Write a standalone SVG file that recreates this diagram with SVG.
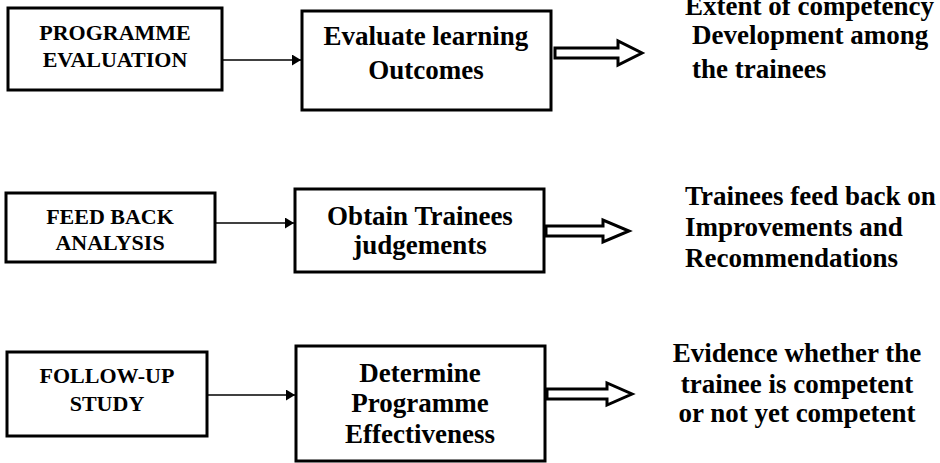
<svg xmlns="http://www.w3.org/2000/svg" width="940" height="463" viewBox="0 0 940 463">
  <defs>
    <style>
      .box { fill: #fff; stroke: #000; stroke-width: 3; }
      .t { font-family: "Liberation Serif", "Times New Roman", serif; font-weight: bold; fill: #000; }
      .s { font-size: 22px; text-anchor: middle; }
      .m { font-size: 27px; text-anchor: middle; }
      .r { font-size: 27px; }
      .line { stroke: #000; stroke-width: 1.5; fill: none; }
      .hollow { fill: #fff; stroke: #000; stroke-width: 3; stroke-linejoin: miter; }
    </style>
    <marker id="ah" viewBox="0 0 10 10" refX="10" refY="5" markerWidth="9" markerHeight="11" markerUnits="userSpaceOnUse" orient="auto" preserveAspectRatio="none">
      <path d="M0,0 L10,5 L0,10 z" fill="#000"/>
    </marker>
  </defs>
  <rect width="940" height="463" fill="#fff"/>

  <g id="connectors">
    <line class="line" x1="223" y1="60" x2="301" y2="60" marker-end="url(#ah)"/>
    <line class="line" x1="216" y1="223" x2="294" y2="223" marker-end="url(#ah)"/>
    <line class="line" x1="208" y1="395" x2="295" y2="395" marker-end="url(#ah)"/>
    <polygon class="hollow" points="555,48 618,48 618,41 642,53 618,65 618,58 555,58"/>
    <polygon class="hollow" points="546,226 603,226 603,220 629,231 603,242 603,236 546,236"/>
    <polygon class="hollow" points="547,389 607,389 607,383 632,394 607,405 607,399 547,399"/>
  </g>

  <g id="programme-evaluation">
    <rect class="box" x="8" y="8" width="214" height="82"/>
    <text class="t s" x="115" y="40">PROGRAMME</text>
    <text class="t s" x="115" y="67">EVALUATION</text>
  </g>
  <g id="evaluate-learning">
    <rect class="box" x="302" y="11" width="249" height="99"/>
    <text class="t m" x="426" y="45">Evaluate learning</text>
    <text class="t m" x="426" y="79">Outcomes</text>
  </g>
  <g id="extent-competency">
    <text class="t r" x="685" y="15">Extent of competency</text>
    <text class="t r" x="692" y="44">Development among</text>
    <text class="t r" x="692" y="78">the trainees</text>
  </g>

  <g id="feed-back-analysis">
    <rect class="box" x="6" y="193" width="209" height="69"/>
    <text class="t s" x="110" y="224">FEED BACK</text>
    <text class="t s" x="110" y="250">ANALYSIS</text>
  </g>
  <g id="obtain-judgements">
    <rect class="box" x="295" y="189" width="249" height="83"/>
    <text class="t m" x="420" y="225">Obtain Trainees</text>
    <text class="t m" x="420" y="254">judgements</text>
  </g>
  <g id="trainees-feedback">
    <text class="t r" x="685" y="205">Trainees feed back on</text>
    <text class="t r" x="685" y="236">Improvements and</text>
    <text class="t r" x="685" y="267">Recommendations</text>
  </g>

  <g id="follow-up-study">
    <rect class="box" x="7" y="352" width="200" height="84"/>
    <text class="t s" x="107" y="383">FOLLOW-UP</text>
    <text class="t s" x="107" y="411">STUDY</text>
  </g>
  <g id="determine-effectiveness">
    <rect class="box" x="296" y="346" width="249" height="115"/>
    <text class="t m" x="420" y="382">Determine</text>
    <text class="t m" x="420" y="412">Programme</text>
    <text class="t m" x="420" y="443">Effectiveness</text>
  </g>
  <g id="evidence-competent">
    <text class="t m" x="797" y="362">Evidence whether the</text>
    <text class="t m" x="797" y="393">trainee is competent</text>
    <text class="t m" x="797" y="422">or not yet competent</text>
  </g>
</svg>
